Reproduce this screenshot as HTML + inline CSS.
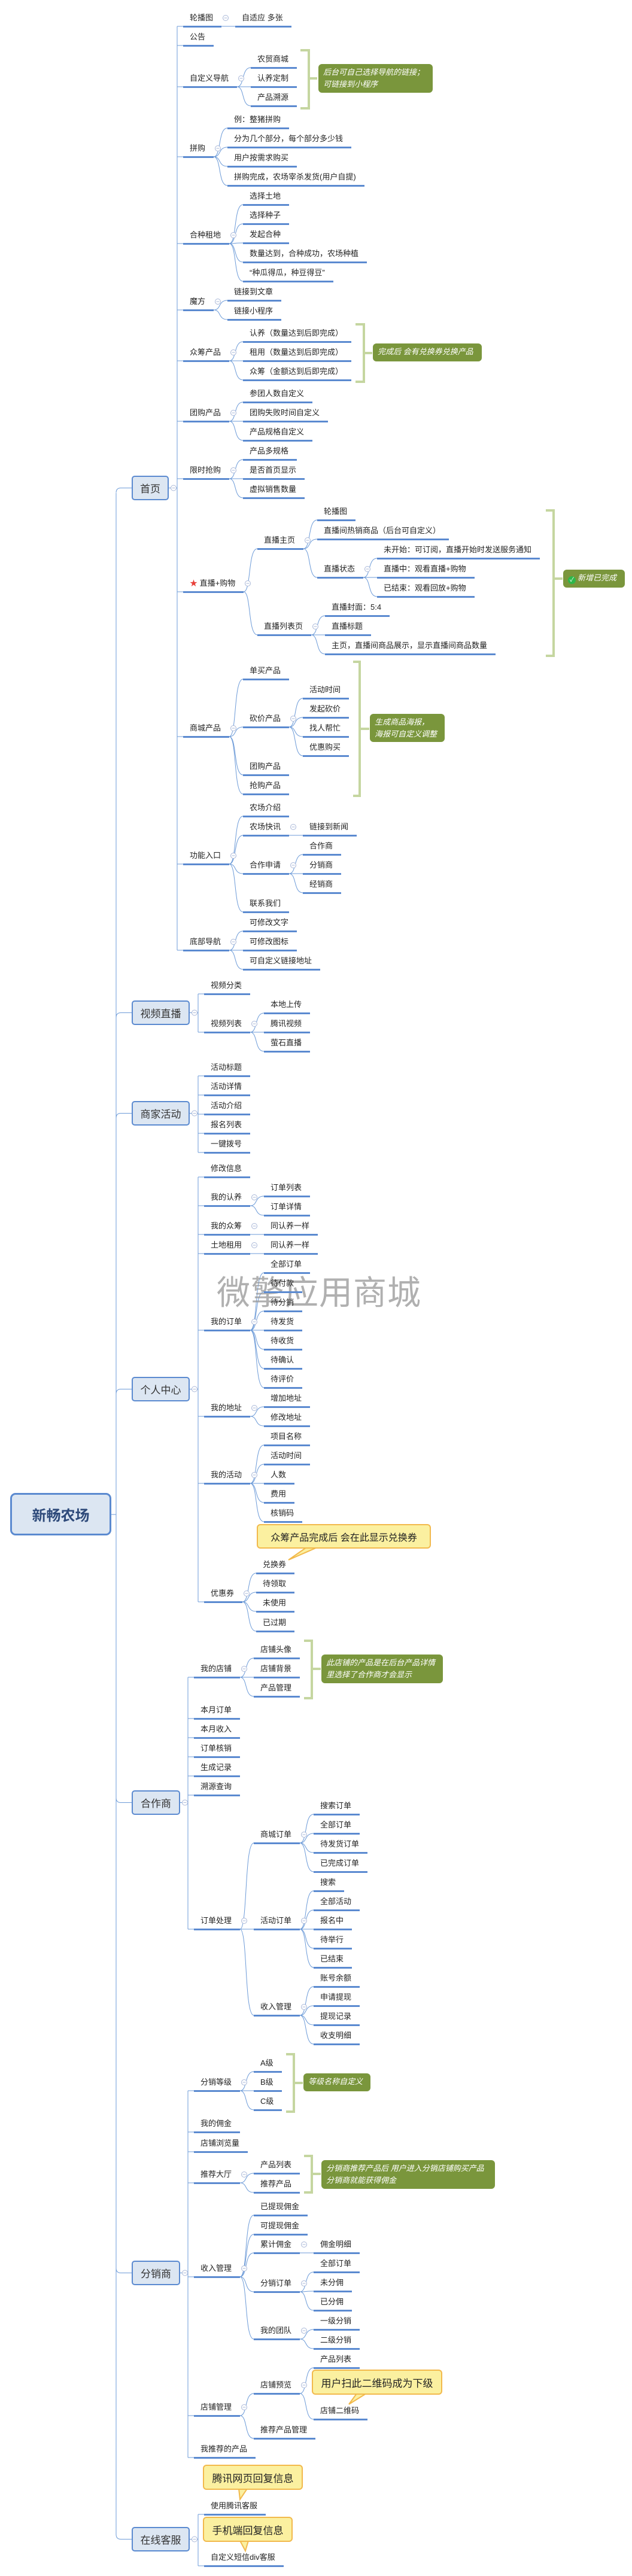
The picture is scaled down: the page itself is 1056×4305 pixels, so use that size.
<!DOCTYPE html>
<html><head><meta charset="utf-8">
<style>
html,body{margin:0;padding:0;background:#fff;}
#c{position:relative;width:1056px;height:4305px;overflow:hidden;font-family:"Liberation Sans","Noto Sans CJK SC",sans-serif;}
.t{position:absolute;font-size:13px;line-height:16px;color:#222;white-space:nowrap;}
.u{position:absolute;height:3px;background:#5b8ad0;}
.box{position:absolute;box-sizing:border-box;border:2px solid #5b8ad0;background:#dce6f2;border-radius:5px;font-size:17px;color:#333;display:flex;align-items:center;justify-content:center;}
.root{position:absolute;box-sizing:border-box;border:3px solid #5b8ad0;background:#dce6f2;border-radius:9px;font-size:24px;font-weight:bold;color:#2e4a7a;display:flex;align-items:center;justify-content:center;}
.note{position:absolute;box-sizing:border-box;background:#7a963c;border-radius:6px;color:#fff;font-style:italic;font-size:13px;line-height:20px;padding:4px 8px;white-space:nowrap;}
.call{position:absolute;box-sizing:border-box;background:#fbf0a0;border:2px solid #f2b94c;border-radius:6px;color:#222;font-size:16px;display:flex;align-items:center;justify-content:center;white-space:nowrap;}
.wm{position:absolute;left:362px;top:2116px;font-size:56px;color:rgba(150,150,150,0.75);white-space:nowrap;letter-spacing:1px;}
svg{position:absolute;left:0;top:0;}
</style></head><body>
<div id="c">
<svg id="s" width="1056" height="4305"></svg>
<div class="root" style="left:17px;top:2495px;width:169px;height:71px;">新畅农场</div>
<div class="wm">微擎应用商城</div>
</div>
<script>
function L(t,y,k){return {t:t,y:y,k:k||[]};}
var boxes=[
{t:'首页',y:795,w:62,lx:296,k:[
 L('轮播图',44,[L('自适应 多张',44)]),
 L('公告',76),
 L('自定义导航',145,[L('农贸商城',113),L('认养定制',145),L('产品溯源',177)]),
 L('拼购',262,[L('例：整猪拼购',214),L('分为几个部分，每个部分多少钱',246),L('用户按需求购买',278),L('拼购完成，农场宰杀发货(用户自提)',310)]),
 L('合种租地',407,[L('选择土地',342),L('选择种子',374),L('发起合种',406),L('数量达到，合种成功，农场种植',438),L('“种瓜得瓜，种豆得豆”',470)]),
 L('魔方',518,[L('链接到文章',502),L('链接小程序',534)]),
 L('众筹产品',603,[L('认养（数量达到后即完成）',571),L('租用（数量达到后即完成）',603),L('众筹（金额达到后即完成）',635)]),
 L('团购产品',704,[L('参团人数自定义',672),L('团购失败时间自定义',704),L('产品规格自定义',736)]),
 L('限时抢购',800,[L('产品多规格',768),L('是否首页显示',800),L('虚拟销售数量',832)]),
 L('<span style="color:#e8403a">★</span> 直播+购物',989,[
   L('直播主页',917,[L('轮播图',869),L('直播间热销商品（后台可自定义）',901),L('直播状态',965,[L('未开始：可订阅，直播开始时发送服务通知',933),L('直播中：观看直播+购物',965),L('已结束：观看回放+购物',997)])]),
   L('直播列表页',1061,[L('直播封面：5:4',1029),L('直播标题',1061),L('主页，直播间商品展示，显示直播间商品数量',1093)])]),
 L('商城产品',1231,[L('单买产品',1135),L('砍价产品',1215,[L('活动时间',1167),L('发起砍价',1199),L('找人帮忙',1231),L('优惠购买',1263)]),L('团购产品',1295),L('抢购产品',1327)]),
 L('功能入口',1444,[L('农场介绍',1364),L('农场快讯',1396,[L('链接到新闻',1396)]),L('合作申请',1460,[L('合作商',1428),L('分销商',1460),L('经销商',1492)]),L('联系我们',1524)]),
 L('底部导航',1588,[L('可修改文字',1556),L('可修改图标',1588),L('可自定义链接地址',1620)])
]},
{t:'视频直播',y:1672,w:97,lx:331,k:[L('视频分类',1661),L('视频列表',1725,[L('本地上传',1693),L('腾讯视频',1725),L('萤石直播',1757)])]},
{t:'商家活动',y:1840,w:97,lx:331,k:[L('活动标题',1798),L('活动详情',1830),L('活动介绍',1862),L('报名列表',1894),L('一键拨号',1926)]},
{t:'个人中心',y:2301,w:97,lx:331,k:[
 L('修改信息',1967),
 L('我的认养',2015,[L('订单列表',1999),L('订单详情',2031)]),
 L('我的众筹',2063,[L('同认养一样',2063)]),
 L('土地租用',2095,[L('同认养一样',2095)]),
 L('我的订单',2223,[L('全部订单',2127),L('待付款',2159),L('待分销',2191),L('待发货',2223),L('待收货',2255),L('待确认',2287),L('待评价',2319)]),
 L('我的地址',2367,[L('增加地址',2351),L('修改地址',2383)]),
 L('我的活动',2479,[L('项目名称',2415),L('活动时间',2447),L('人数',2479),L('费用',2511),L('核销码',2543)]),
 L('优惠券',2677,[L('兑换券',2629),L('待领取',2661),L('未使用',2693),L('已过期',2726)])
]},
{t:'合作商',y:2992,w:81,lx:314,k:[
 L('我的店铺',2803,[L('店铺头像',2771),L('店铺背景',2803),L('产品管理',2835)]),
 L('本月订单',2872),L('本月收入',2904),L('订单核销',2936),L('生成记录',2968),L('溯源查询',3000),
 L('订单处理',3224,[
   L('商城订单',3080,[L('搜索订单',3032),L('全部订单',3064),L('待发货订单',3096),L('已完成订单',3128)]),
   L('活动订单',3224,[L('搜索',3160),L('全部活动',3192),L('报名中',3224),L('待举行',3256),L('已结束',3288)]),
   L('收入管理',3368,[L('账号余额',3320),L('申请提现',3352),L('提现记录',3384),L('收支明细',3416)])])
]},
{t:'分销商',y:3778,w:81,lx:314,k:[
 L('分销等级',3494,[L('A级',3462),L('B级',3494),L('C级',3526)]),
 L('我的佣金',3563),L('店铺浏览量',3596),
 L('推荐大厅',3648,[L('产品列表',3632),L('推荐产品',3664)]),
 L('收入管理',3805,[L('已提现佣金',3702),L('可提现佣金',3734),L('累计佣金',3765,[L('佣金明细',3765)]),L('分销订单',3830,[L('全部订单',3797),L('未分佣',3829),L('已分佣',3861)]),L('我的团队',3909,[L('一级分销',3893),L('二级分销',3925)])]),
 L('店铺管理',4037,[L('店铺预览',4000,[L('产品列表',3957),L('店铺二维码',4043)]),L('推荐产品管理',4075)]),
 L('我推荐的产品',4107)
]},
{t:'在线客服',y:4223,w:97,lx:331,k:[L('使用腾讯客服',4202),L('自定义短信div客服',4288)]}
];
var C=document.getElementById('c'),S=document.getElementById('s'),NS='http://www.w3.org/2000/svg',P='';
function el(cls,css,html){var d=document.createElement('div');d.className=cls;d.style.cssText=css;if(html!=null)d.innerHTML=html;C.appendChild(d);return d;}
function circ(x,y){P+='<circle cx="'+x+'" cy="'+y+'" r="4.5" fill="#fff" stroke="#aab8d8" stroke-width="1"/><line x1="'+(x-2.5)+'" y1="'+y+'" x2="'+(x+2.5)+'" y2="'+y+'" stroke="#aab8d8"/>';}
function line(d,c,w){P+='<path d="'+d+'" fill="none" stroke="'+(c||'#6d9bd8')+'" stroke-width="'+(w||1)+'"/>';}
function place(n,x){
 var t=el('t','left:'+(x+11)+'px;top:'+(n.y-22)+'px;',n.t);
 var w=t.getBoundingClientRect().width;
 var e=Math.round(x+11+w+14);
 el('u','left:'+x+'px;top:'+(n.y-1.5)+'px;width:'+(e-x)+'px;');
 if(n.k.length){
  var cx=e+23;
  n.k.forEach(function(k){
   if(k.y==n.y)line('M'+e+','+n.y+' L'+cx+','+k.y);
   else line('M'+e+','+n.y+' C'+(e+13)+','+n.y+' '+(e+7)+','+k.y+' '+cx+','+k.y);
   place(k,cx);
  });
  circ(e+7,n.y-14);
 }
}
// root trunk
line('M186,2531 L194,2531');
line('M194,824 L194,4236');
boxes.forEach(function(b){
 var cy=b.y+20.5;
 line('M194,'+(cy+ (cy<2531?8:-8))+' Q194,'+cy+' 202,'+cy+' L220,'+cy);
 el('box','left:220px;top:'+b.y+'px;width:'+b.w+'px;height:41px;',b.t);
 var r=220+b.w;
 line('M'+r+','+cy+' L'+b.lx+','+cy);
 var ys=b.k.map(function(k){return k.y;});
 line('M'+b.lx+','+Math.min.apply(null,ys)+' L'+b.lx+','+Math.max.apply(null,ys));
 b.k.forEach(function(k){line('M'+b.lx+','+k.y+' L'+(b.lx+10)+','+k.y);place(k,b.lx+10);});
 circ(r+8,cy);
});
// brackets & notes
function br(x1,x2,y1,y2,ty,tx){line('M'+x1+','+y1+' L'+x2+','+y1+' L'+x2+','+y2+' L'+x1+','+y2+' M'+x2+','+ty+' L'+tx+','+ty,'#c5d6a0',4);}
br(502,516,84,181,131,530);
br(594,608,542,638,590,622);
br(912,925,853,1096,967,940);
br(590,601,1106,1330,1218,617);
br(508,521,2742,2838,2789,536);
br(478,491,3433,3529,3481,506);
br(508,521,3603,3664,3633,536);
function note(x,y,w,h,html){el('note','left:'+x+'px;top:'+y+'px;width:'+w+'px;height:'+h+'px;',html);}
note(532,107,191,48,'后台可自己选择导航的链接；<br>可链接到小程序');
note(623,574,182,30,'完成后 会有兑换券兑换产品');
note(941,952,103,30,'<span style="display:inline-block;width:13px;height:13px;border-radius:50%;background:#2db84a;color:#fff;font-style:normal;font-size:10px;line-height:13px;text-align:center;vertical-align:-2px;margin-right:3px">✓</span>新增已完成');
note(618,1193,125,47,'生成商品海报，<br>海报可自定义调整');
note(537,2765,203,48,'此店铺的产品是在后台产品详情<br>里选择了合作商才会显示');
note(507,3465,112,30,'等级名称自定义');
note(537,3610,290,48,'分销商推荐产品后 用户进入分销店铺购买产品<br>分销商就能获得佣金');
// callouts
function call(x,y,w,h,txt,fs,tx1,tx2,px,py){
 P+='<polygon points="'+tx1+','+(y+h-2)+' '+tx2+','+(y+h-2)+' '+px+','+py+'" fill="#fbf0a0" stroke="#f2b94c" stroke-width="2"/>';
 el('call','left:'+x+'px;top:'+y+'px;width:'+w+'px;height:'+h+'px;font-size:'+fs+'px;',txt);
}
call(429,2547,291,41,'众筹产品完成后 会在此显示兑换券',16,512,530,482,2607);
call(521,3960,218,42,'用户扫此二维码成为下级',17,596,612,583,4018);
call(339,4119,167,42,'腾讯网页回复信息',17,399,413,401,4177);
call(339,4206,150,42,'手机端回复信息',17,401,415,410,4263);
S.innerHTML=P;
// cover tail join lines with callout boxes (re-append boxes above svg already ensured by DOM order)
</script>
</body></html>
